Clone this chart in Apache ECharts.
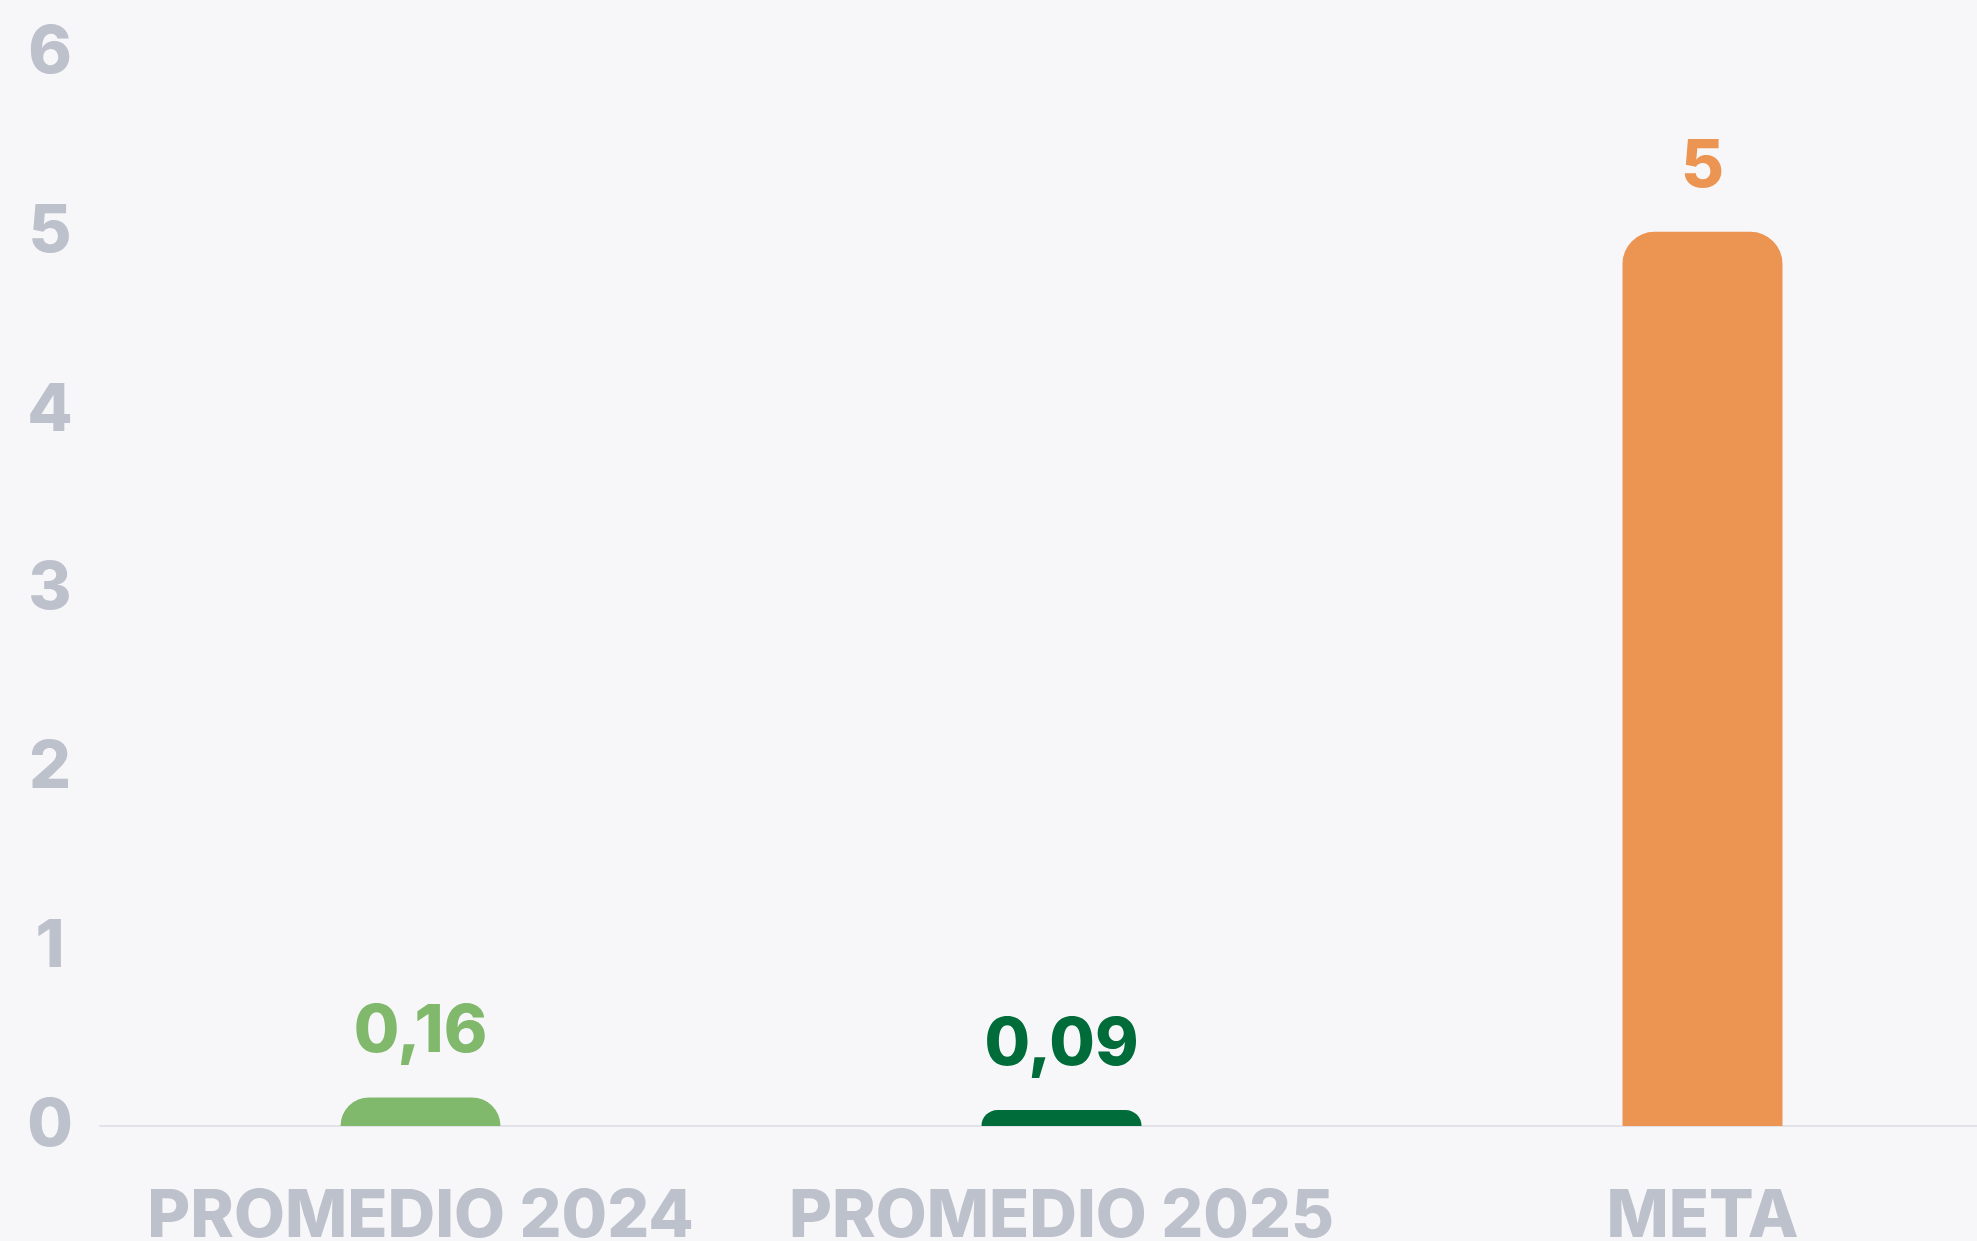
<!DOCTYPE html>
<html>
<head>
<meta charset="utf-8">
<script src="https://cdn.jsdelivr.net/npm/echarts@6/dist/echarts.min.js"></script>
<style>
html,body{margin:0;padding:0;background:#F7F7FA;}
#chart{width:1977px;height:1241px;}
</style>
</head>
<body>
<div id="chart"></div>
<script>
var categories = ['PROMEDIO 2024', 'PROMEDIO 2025', 'META'];
var values = [0.16, 0.09, 5];
var valueLabels = ['0,16', '0,09', '5'];
var yTicks = [0, 1, 2, 3, 4, 5, 6];
var barColors = ['#80B86C', '#006C3A', '#EC9552'];

var FONT = 'Inter, "Noto Sans", sans-serif';
var chart = echarts.init(document.getElementById('chart'));
chart.setOption({
  backgroundColor: '#F7F7FA',
  animation: false,
  grid: { left: 100, top: 53, width: 1923, height: 1073, containLabel: false, outerBoundsMode: 'none' },
  xAxis: {
    type: 'category',
    data: categories,
    axisLine: { show: true, lineStyle: { color: '#E2E2E8', width: 2 } },
    axisTick: { show: false },
    axisLabel: {
      color: '#BDC1CB', fontFamily: FONT, fontWeight: 800, fontSize: 66,
      margin: 58, interval: 0
    }
  },
  yAxis: {
    type: 'value',
    min: yTicks[0],
    max: yTicks[yTicks.length - 1],
    interval: 1,
    splitLine: { show: false },
    axisLine: { show: false },
    axisTick: { show: false },
    axisLabel: {
      color: '#BDC1CB', fontFamily: FONT, fontWeight: 800, fontSize: 66,
      align: 'center', margin: 50, padding: [0, 0, 10, 0]
    }
  },
  series: [{
    type: 'bar',
    barWidth: 160,
    data: values.map(function (v, i) {
      return {
        value: v,
        itemStyle: { color: barColors[i], borderRadius: [32, 32, 0, 0] },
        label: { color: barColors[i] }
      };
    }),
    label: {
      show: true,
      position: 'top',
      distance: 32,
      fontFamily: FONT,
      fontWeight: 800,
      fontSize: 66,
      formatter: function (p) { return valueLabels[p.dataIndex]; }
    }
  }]
});
</script>
</body>
</html>
